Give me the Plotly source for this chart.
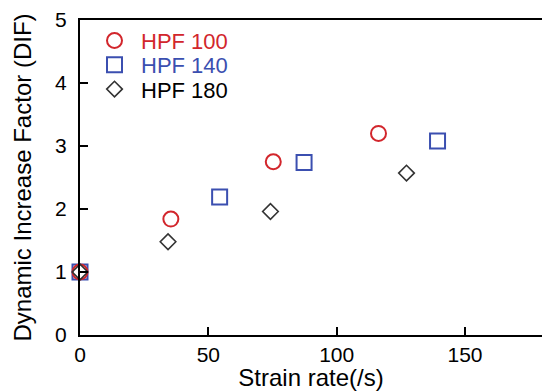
import plotly.graph_objects as go

# Data
hpf100_rate = [0, 35.4, 75.3, 116.3]
hpf100_dif = [1.0, 1.84, 2.75, 3.20]
hpf140_rate = [0, 54.4, 87.3, 139.3]
hpf140_dif = [1.0, 2.19, 2.74, 3.08]
hpf180_rate = [0, 34.3, 74.2, 127.2]
hpf180_dif = [1.0, 1.48, 1.96, 2.57]

x_ticks = [0, 50, 100, 150]
y_ticks = [0, 1, 2, 3, 4, 5]

RED = "#d2262c"
BLUE = "#3b4fb0"
DARK = "#333333"
FONT = "Liberation Sans, Arial, sans-serif"

fig = go.Figure()
fig.add_trace(go.Scatter(x=hpf140_rate, y=hpf140_dif, mode="markers", name="HPF 140",
                         legend="legend2", cliponaxis=False,
                         marker=dict(symbol="square-open", size=15, color=BLUE, line=dict(width=2, color=BLUE))))
fig.add_trace(go.Scatter(x=hpf100_rate, y=hpf100_dif, mode="markers", name="HPF 100",
                         legend="legend", cliponaxis=False,
                         marker=dict(symbol="circle-open", size=15, color=RED, line=dict(width=2, color=RED))))
fig.add_trace(go.Scatter(x=hpf180_rate, y=hpf180_dif, mode="markers", name="HPF 180",
                         legend="legend3", cliponaxis=False,
                         marker=dict(symbol="diamond-open", size=12, color=DARK, line=dict(width=1.6, color=DARK))))

L, T, B, W, H = 80, 20, 335, 462, 315

def leg(ypix, color):
    return dict(xref="paper", yref="paper", x=(88 - L) / W, y=(B - ypix) / H,
                xanchor="left", yanchor="middle", bgcolor="rgba(0,0,0,0)",
                itemwidth=43, font=dict(family=FONT, size=22, color=color))

fig.update_layout(
    width=542, height=391,
    margin=dict(l=L, r=0, t=T, b=391 - B, autoexpand=False),
    plot_bgcolor="white", paper_bgcolor="white",
    font=dict(family=FONT, size=21, color="black"),
    showlegend=True,
    legend=leg(40.7, RED),
    legend2=leg(65, BLUE),
    legend3=leg(89.3, "black"),
    xaxis=dict(range=[0, 180], tickvals=x_ticks, ticks="inside", ticklen=8, tickwidth=2,
               tickcolor="black", showline=True, linewidth=2, linecolor="black", mirror=True,
               showgrid=False, zeroline=False, ticklabelstandoff=0, automargin=False,
               title=dict(text="Strain rate(/s)", font=dict(size=24), standoff=5)),
    yaxis=dict(range=[0, 5], tickvals=y_ticks, ticks="inside", ticklen=8, tickwidth=2,
               tickcolor="black", showline=True, linewidth=2, linecolor="black",
               showgrid=False, zeroline=False, ticklabelstandoff=7, automargin=False,
               title=dict(text="Dynamic Increase Factor (DIF)", font=dict(size=24), standoff=17)),
)

fig.write_html(
    "out.html",
    config={"displayModeBar": False},
    post_script="document.body.style.margin='0';document.body.style.overflow='hidden';",
)
